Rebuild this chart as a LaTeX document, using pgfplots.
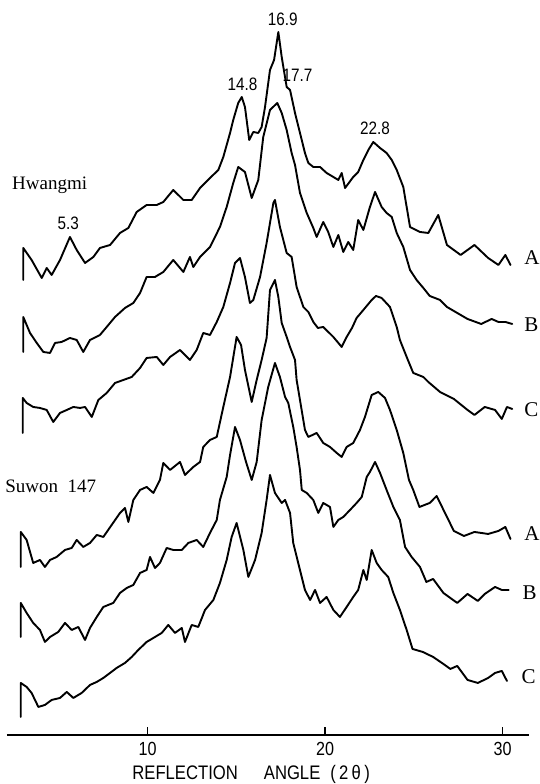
\documentclass[border=0pt]{standalone}
\usepackage{pgfplots}
\pgfplotsset{compat=1.18}
\usepackage{fontspec}
\setmainfont{Liberation Serif}
\newfontfamily\sfc[FakeStretch=0.85]{Liberation Sans}
\begin{document}
\begin{tikzpicture}
\begin{axis}[
  scale only axis,
  width=261.2pt, height=367.5pt,
  xmin=2.07, xmax=31.5, ymin=0, ymax=735,
  axis x line*=bottom, hide y axis,
  xtick={10,20,30}, xticklabels={10,20,30},
  tick align=inside, major tick length=4pt,
  axis line style={black, line width=0.8pt},
  xtick style={line width=0.8pt, black},
  xticklabel style={font=\sfc\fontsize{9.5}{10}\selectfont},
  clip=false,
  xrd/.style={black, line width=0.95pt, line join=round, line cap=round, mark=none},
]
% Hwangmi A
\addplot[xrd] table {
2.99 455
2.99 487
3.46 475
4.03 457
4.31 467
4.59 460
5.06 475
5.62 498
6.00 485
6.47 472
6.94 478
7.31 487
7.88 490
8.44 502
8.91 507
9.38 523
9.94 530
10.51 530
10.88 533
11.44 545
12.01 535
12.48 535
12.95 547
13.51 557
13.98 565
14.26 578
14.64 602
14.82 615
15.10 632
15.30 638
15.48 628
15.72 595
15.95 603
16.23 602
16.42 608
16.61 628
16.89 665
17.12 675
17.36 703
17.55 678
17.83 648
18.02 645
18.30 622
18.58 602
18.86 582
19.05 572
19.33 568
19.71 568
20.08 562
20.46 558
20.74 555
20.93 562
21.12 547
21.58 558
21.86 563
22.15 575
22.43 585
22.71 593
23.09 587
23.46 582
23.75 575
24.03 565
24.40 548
24.78 508
25.34 503
25.81 502
26.37 520
26.86 490
27.63 480
28.41 490
29.18 477
29.76 470
30.15 480
30.44 470
};
% Hwangmi B
\addplot[xrd] table {
2.99 383
2.99 418
3.37 402
3.75 392
4.12 383
4.50 382
4.78 392
5.15 393
5.62 397
6.00 395
6.37 383
6.75 395
7.31 400
7.69 408
8.16 418
8.72 427
9.19 432
9.57 442
9.94 458
10.41 458
10.88 463
11.44 475
12.01 463
12.38 478
12.57 468
12.95 478
13.51 488
14.07 508
14.45 528
14.82 552
15.10 568
15.48 563
15.86 537
16.23 555
16.51 598
16.89 625
17.30 632
17.55 622
17.83 605
18.11 582
18.30 570
18.58 542
18.96 522
19.33 507
19.52 498
19.89 513
20.17 503
20.46 488
20.74 500
21.02 483
21.30 493
21.58 485
21.86 515
22.15 505
22.52 528
22.81 543
23.18 528
23.46 522
23.75 518
24.03 502
24.40 488
24.78 465
25.15 455
25.53 447
25.89 439
26.47 435
26.86 428
27.44 422
28.02 416
28.79 411
29.38 416
29.76 413
30.15 413
30.54 411
};
% Hwangmi C
\addplot[xrd] table {
2.96 302
2.96 337
3.18 332
3.55 328
3.93 327
4.31 325
4.68 313
5.06 322
5.44 325
5.81 328
6.19 327
6.47 328
6.85 318
7.22 335
7.69 342
8.16 352
8.63 355
9.10 358
9.57 367
9.94 377
10.51 378
10.88 370
11.26 378
11.82 385
12.38 375
12.76 385
13.13 402
13.51 400
13.89 413
14.26 428
14.64 452
14.92 472
15.20 477
15.48 458
15.76 432
15.95 435
16.33 458
16.70 492
17.08 532
17.17 535
17.45 508
17.83 482
18.11 478
18.39 448
18.77 428
19.05 423
19.33 413
19.59 407
19.89 408
20.46 398
20.93 388
21.21 398
21.51 407
21.77 417
22.15 425
22.62 435
22.86 439
23.18 437
23.65 428
24.03 408
24.21 395
24.59 378
24.96 362
25.53 358
25.81 353
26.47 343
27.25 336
28.02 325
28.41 320
28.99 328
29.57 325
29.95 316
30.24 328
30.54 326
};
% Suwon 147 A
\addplot[xrd] table {
2.85 168
2.85 203
3.18 195
3.55 172
3.93 175
4.21 168
4.50 175
4.87 178
5.34 185
5.72 187
6.00 195
6.37 188
6.75 192
7.13 200
7.50 198
7.97 210
8.44 222
8.72 227
8.91 213
9.19 235
9.57 245
9.94 248
10.32 242
10.69 255
10.88 272
11.26 265
11.82 273
12.10 260
12.57 268
12.95 273
13.13 288
13.51 295
13.89 298
14.26 328
14.64 358
15.01 398
15.26 390
15.48 365
15.86 333
16.14 355
16.42 375
16.70 397
16.89 445
17.17 455
17.36 438
17.55 412
17.83 398
18.02 388
18.30 375
18.39 355
18.58 335
18.86 305
19.05 298
19.52 302
19.89 292
20.27 288
20.65 282
20.93 278
21.21 288
21.58 292
21.96 305
22.24 318
22.62 340
22.99 343
23.37 337
23.65 325
24.03 305
24.40 282
24.72 255
24.96 245
25.31 228
25.89 232
26.28 239
26.86 218
27.25 204
27.82 199
28.41 203
29.18 201
29.76 204
30.15 208
30.44 196
};
% Suwon 147 B
\addplot[xrd] table {
2.85 98
2.85 132
3.18 122
3.55 112
3.93 105
4.21 93
4.50 98
4.96 103
5.34 112
5.72 105
6.09 108
6.47 95
6.75 107
7.13 118
7.50 128
8.06 132
8.44 142
8.82 147
9.19 150
9.57 162
9.94 165
10.13 178
10.41 167
10.69 172
11.07 187
11.44 185
11.92 185
12.29 192
12.76 195
13.13 188
13.51 202
13.89 215
14.07 235
14.45 258
14.64 280
14.92 308
15.20 295
15.54 273
15.86 255
16.14 273
16.42 315
16.79 348
17.17 372
17.45 358
17.74 338
17.92 332
18.20 308
18.39 288
18.58 265
18.68 245
18.96 242
19.33 235
19.61 222
19.89 232
20.27 228
20.46 208
20.74 215
21.02 218
21.40 225
21.77 232
22.06 238
22.34 258
22.52 263
22.81 273
23.09 262
23.46 245
23.84 228
24.21 215
24.50 188
24.87 178
25.34 168
25.70 153
26.08 156
26.66 142
27.44 132
28.02 141
28.60 134
28.99 141
29.57 148
29.95 145
30.34 145
};
% Suwon 147 C
\addplot[xrd] table {
2.85 18
2.85 52
3.18 48
3.46 42
3.84 28
4.21 30
4.59 35
5.06 37
5.44 43
5.81 37
6.28 42
6.75 50
7.13 53
7.50 57
7.88 62
8.25 67
8.72 72
9.10 78
9.47 85
9.94 93
10.32 97
10.79 102
11.16 110
11.54 102
11.92 107
12.10 93
12.48 110
12.85 108
13.23 125
13.70 135
14.07 152
14.45 175
14.73 198
15.01 212
15.39 185
15.67 158
16.05 175
16.42 202
16.70 235
16.89 260
17.17 242
17.55 232
17.74 235
18.02 222
18.20 192
18.48 172
18.86 145
19.15 135
19.43 145
19.71 132
20.08 138
20.46 125
20.83 118
21.21 128
21.58 138
21.86 145
22.15 165
22.34 155
22.62 185
22.90 172
23.18 165
23.55 158
23.84 142
24.21 125
24.59 105
24.92 86
25.50 83
26.08 78
26.66 71
27.05 66
27.44 69
28.02 55
28.60 52
29.18 57
29.57 62
29.95 64
30.24 54
};
% bounding box of the figure
\path (axis cs:1.679,-49) rectangle (axis cs:32.045,735);
% peak labels
\node[font=\sfc\fontsize{9}{10}\selectfont] at (axis cs:17.61,716) {16.9};
\node[font=\sfc\fontsize{9}{10}\selectfont] at (axis cs:15.34,651) {14.8};
\node[font=\sfc\fontsize{9}{10}\selectfont] at (axis cs:18.44,660) {17.7};
\node[font=\sfc\fontsize{9}{10}\selectfont] at (axis cs:22.81,607) {22.8};
\node[font=\sfc\fontsize{9}{10}\selectfont] at (axis cs:5.53,512) {5.3};
% sample names
\node[anchor=base west, inner sep=0pt, font=\fontsize{9.5}{11}\selectfont] at (axis cs:2.34,545) {Hwangmi};
\node[anchor=base west, inner sep=0pt, font=\fontsize{9.5}{11}\selectfont] at (axis cs:1.96,242) {Suwon\ \ 147};
% curve letters
\node[anchor=base west, inner sep=0pt, font=\fontsize{10.5}{12}\selectfont] at (axis cs:31.20,470) {A};
\node[anchor=base west, inner sep=0pt, font=\fontsize{10.5}{12}\selectfont] at (axis cs:31.20,403) {B};
\node[anchor=base west, inner sep=0pt, font=\fontsize{10.5}{12}\selectfont] at (axis cs:31.20,318) {C};
\node[anchor=base west, inner sep=0pt, font=\fontsize{10.5}{12}\selectfont] at (axis cs:31.20,194) {A};
\node[anchor=base west, inner sep=0pt, font=\fontsize{10.5}{12}\selectfont] at (axis cs:31.10,135) {B};
\node[anchor=base west, inner sep=0pt, font=\fontsize{10.5}{12}\selectfont] at (axis cs:31.05,51) {C};
% axis title
\node[anchor=base west, inner sep=0pt, font=\sfc\fontsize{9.8}{11}\selectfont] at (axis cs:9.115,-45) {REFLECTION\hspace{13pt}ANGLE\hspace{5pt}(\,2\,θ\,)};
\end{axis}
\end{tikzpicture}
\end{document}
